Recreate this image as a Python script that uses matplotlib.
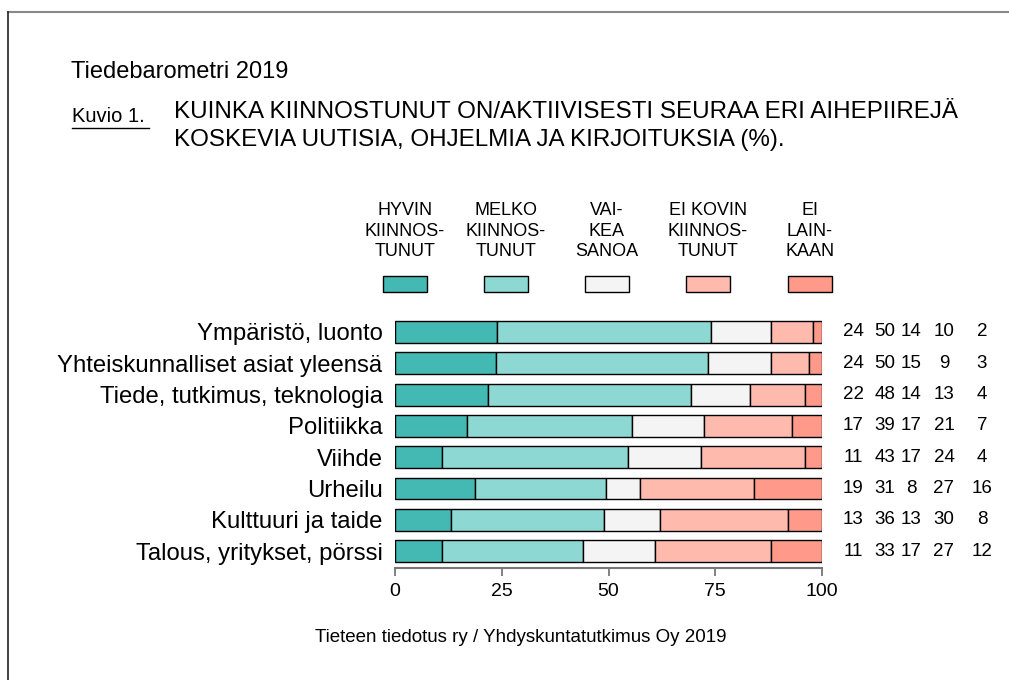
import numpy as np
import matplotlib
matplotlib.use("Agg")
import matplotlib.pyplot as plt
from matplotlib.patches import Rectangle
from matplotlib.lines import Line2D
from matplotlib.transforms import blended_transform_factory

plt.rcParams['font.family'] = ['Liberation Sans', 'DejaVu Sans']

categories = [
    "Ympäristö, luonto",
    "Yhteiskunnalliset asiat yleensä",
    "Tiede, tutkimus, teknologia",
    "Politiikka",
    "Viihde",
    "Urheilu",
    "Kulttuuri ja taide",
    "Talous, yritykset, pörssi",
]
series_names = ["HYVIN\nKIINNOS-\nTUNUT", "MELKO\nKIINNOS-\nTUNUT", "VAI-\nKEA\nSANOA",
                "EI KOVIN\nKIINNOS-\nTUNUT", "EI\nLAIN-\nKAAN"]
hyvin = [24, 24, 22, 17, 11, 19, 13, 11]
melko = [50, 50, 48, 39, 43, 31, 36, 33]
vaikea = [14, 15, 14, 17, 17, 8, 13, 17]
ei_kovin = [10, 9, 13, 21, 24, 27, 30, 27]
ei_lainkaan = [2, 3, 4, 7, 4, 16, 8, 12]
ticks = [0, 25, 50, 75, 100]

colors = ['#44b9b4', '#8ed8d3', '#f4f4f4', '#ffbaae', '#ff998a']

W, H = 1009, 680
fig = plt.figure(figsize=(W / 100, H / 100), dpi=100, facecolor='white')


def fx(px):
    return px / W


def fy(py):
    return 1 - py / H


# frame lines (top and left)
fig.add_artist(Line2D([fx(8), 1], [fy(12), fy(12)], color='#888888', lw=1.5))
fig.add_artist(Line2D([fx(8), fx(8)], [fy(12), 0], color='#222222', lw=1.2))

# header texts
fig.text(fx(71), fy(72), "Tiedebarometri 2019", fontsize=17, va='center', ha='left')
fig.text(fx(72), fy(116), "Kuvio 1.", fontsize=14.5, va='center', ha='left')
fig.add_artist(Line2D([fx(72), fx(149)], [fy(128), fy(128)], color='black', lw=1))
fig.text(fx(174), fy(112), "KUINKA KIINNOSTUNUT ON/AKTIIVISESTI SEURAA ERI AIHEPIIREJÄ",
         fontsize=17.4, va='center', ha='left')
fig.text(fx(174), fy(140), "KOSKEVIA UUTISIA, OHJELMIA JA KIRJOITUKSIA (%).",
         fontsize=17.4, va='center', ha='left')

# axes
x0, x1 = 395, 822
y_top, y_bot = 316, 568
ax = fig.add_axes([fx(x0), fy(y_bot), fx(x1) - fx(x0), (y_bot - y_top) / H])

data = np.array([hyvin, melko, vaikea, ei_kovin, ei_lainkaan], dtype=float)
norm = data / data.sum(axis=0) * 100
ypos = np.arange(len(categories))
left = np.zeros(len(categories))
for i in range(len(series_names)):
    ax.barh(ypos, norm[i], left=left, height=0.7, color=colors[i],
            edgecolor='black', linewidth=1.0)
    left += norm[i]

ax.set_xlim(0, 100)
ax.set_ylim(7.54, -0.51)
ax.set_yticks(ypos)
ax.set_yticklabels(categories, fontsize=17.2)
ax.tick_params(axis='y', length=0, pad=9)
ax.set_xticks(ticks)
ax.set_xticklabels([str(t) for t in ticks], fontsize=14)
ax.tick_params(axis='x', length=6, width=1.3, color='#777777', pad=5)
for s in ['top', 'right', 'left']:
    ax.spines[s].set_visible(False)
ax.spines['bottom'].set_color('#777777')
ax.spines['bottom'].set_linewidth(1.5)

# numbers to the right
num_x = [853, 885, 911, 944, 982]
tr = blended_transform_factory(fig.transFigure, ax.transData)
for i in range(len(series_names)):
    for j in range(len(categories)):
        ax.text(fx(num_x[i]), j, str(int(data[i, j])), fontsize=13.5,
                ha='center', va='center', transform=tr, clip_on=False)

# legend
leg_x = [405, 506, 607, 708, 810]
for i, name in enumerate(series_names):
    fig.text(fx(leg_x[i]), fy(231), name, fontsize=13, ha='center', va='center',
             linespacing=1.3)
    fig.add_artist(Rectangle((fx(leg_x[i] - 22), fy(292)), 44 / W, 16 / H,
                             transform=fig.transFigure, facecolor=colors[i],
                             edgecolor='black', lw=1.0))

fig.text(fx(521), fy(637), "Tieteen tiedotus ry / Yhdyskuntatutkimus Oy 2019",
         fontsize=13.5, ha='center', va='center')

fig.savefig("out.png", dpi=100, facecolor='white')
